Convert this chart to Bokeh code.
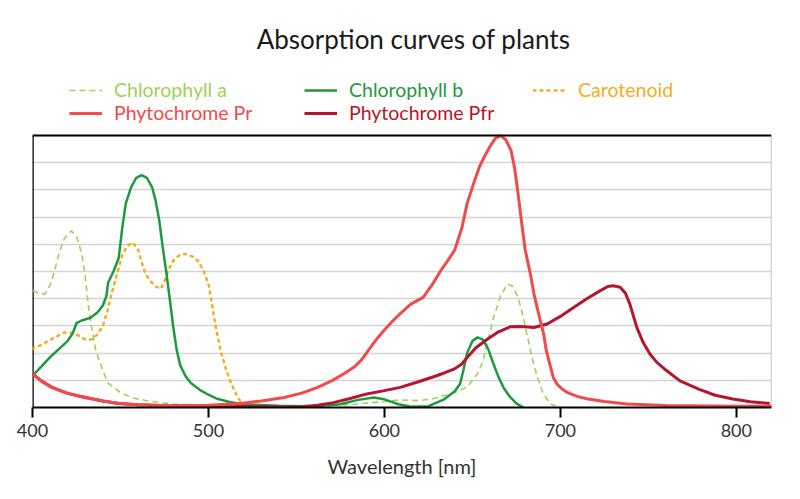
from bokeh.plotting import figure
from bokeh.models import Legend, LegendItem, Span, Label, FixedTicker
from bokeh.embed import file_html
from bokeh.resources import INLINE

# values: wavelength [nm] and relative absorption (0-10)
chl_a_wl = [400, 404, 407, 410, 412.5, 415, 418, 422, 425, 428, 430, 432, 434, 436, 440, 443,
            450, 457, 465, 480, 500, 540, 580, 600, 609, 620, 628, 640, 647, 653, 656, 659,
            662, 666, 670, 673, 676, 679, 681, 684, 687, 690, 694, 698]
chl_a_abs = [4.3, 4.2, 4.17, 4.5, 5.0, 5.65, 6.2, 6.5, 6.3, 5.65, 4.8, 3.6, 2.8, 2.1, 1.35, 0.9,
             0.55, 0.35, 0.25, 0.12, 0.08, 0.05, 0.1, 0.22, 0.28, 0.25, 0.33, 0.55, 0.75, 1.25, 1.7, 2.5,
             3.3, 4.1, 4.55, 4.45, 4.05, 3.3, 2.7, 1.8, 1.1, 0.55, 0.15, 0.02]

chl_b_wl = [400, 405, 410, 415, 420, 423, 425, 428, 433, 437, 440, 442, 443, 446, 449, 451,
            453, 456, 459, 462, 465, 468, 470, 472, 474, 476, 478, 480, 482, 484, 487, 490,
            495, 500, 505, 512, 520, 540, 560, 575, 585, 594, 600, 608, 615, 625, 634, 640,
            643, 645, 647, 650, 653, 656, 659, 662, 665, 668, 671, 675, 679]
chl_b_abs = [1.17, 1.5, 1.85, 2.15, 2.45, 2.75, 3.1, 3.2, 3.3, 3.5, 3.75, 4.1, 4.6, 5.0, 5.5, 6.6,
             7.5, 8.1, 8.45, 8.55, 8.45, 8.1, 7.6, 6.9, 5.9, 5.0, 4.0, 2.95, 2.1, 1.55, 1.15, 0.9,
             0.65, 0.47, 0.32, 0.2, 0.12, 0.06, 0.04, 0.12, 0.28, 0.37, 0.3, 0.12, 0.03, 0.05, 0.3, 0.6,
             0.87, 1.4, 2.0, 2.45, 2.58, 2.5, 2.15, 1.6, 1.1, 0.7, 0.42, 0.15, 0.0]

carot_wl = [400, 405, 409, 414, 418, 422, 426, 430, 434, 437, 440, 443, 445, 448, 451, 454,
            457, 460, 462, 464, 467, 470, 473, 475, 477, 480, 483, 487, 491, 494, 497, 500,
            502, 504, 507, 510, 513, 516, 519, 521]
carot_abs = [2.16, 2.3, 2.45, 2.62, 2.76, 2.75, 2.65, 2.5, 2.5, 2.7, 3.0, 3.65, 4.2, 4.9, 5.6, 5.95,
             6.07, 5.8, 5.35, 4.95, 4.65, 4.45, 4.37, 4.65, 5.03, 5.4, 5.58, 5.65, 5.55, 5.4, 5.05, 4.55,
             3.8, 3.0, 2.08, 1.4, 0.87, 0.45, 0.15, 0.0]

pr_wl = [400, 405, 411, 420, 430, 440, 449, 460, 477, 500, 518, 530, 543, 553, 562, 570,
         577, 583, 587, 592, 596, 600, 605, 609, 615, 622, 627, 632, 636, 640, 644, 647,
         651, 654, 657, 660, 663, 666, 669, 672, 674, 676, 678, 680, 683, 685, 688, 690.5,
         692, 694.5, 696, 698, 701, 704, 710, 715, 725, 738, 760, 800, 820]
pr_abs = [1.24, 0.98, 0.74, 0.52, 0.37, 0.24, 0.15, 0.1, 0.06, 0.08, 0.15, 0.24, 0.37, 0.53, 0.74, 0.98,
          1.24, 1.5, 1.75, 2.2, 2.55, 2.85, 3.2, 3.45, 3.8, 4.05, 4.5, 5.03, 5.4, 5.8, 6.6, 7.5,
          8.3, 8.85, 9.25, 9.6, 9.9, 10.0, 9.85, 9.45, 8.8, 7.85, 6.8, 5.8, 4.9, 4.18, 3.35, 2.71,
          2.1, 1.47, 1.1, 0.87, 0.68, 0.55, 0.4, 0.32, 0.22, 0.13, 0.07, 0.05, 0.05]

pfr_wl = [400, 405, 411, 420, 430, 440, 449, 460, 477, 500, 520, 540, 552, 562, 571, 580,
          590, 600, 609, 618, 628, 634, 639.5, 644, 647, 652, 658.5, 664, 671.5, 678, 685, 692.5,
          700, 707.5, 715, 722.5, 727, 730, 734, 737, 739.5, 743.5, 747, 751, 755, 760.5, 768, 779,
          788, 798, 808, 819]
pfr_abs = [1.24, 0.98, 0.74, 0.52, 0.37, 0.24, 0.15, 0.1, 0.06, 0.05, 0.04, 0.02, 0.02, 0.08, 0.18, 0.32,
           0.5, 0.62, 0.74, 0.92, 1.13, 1.27, 1.41, 1.6, 1.84, 2.2, 2.51, 2.75, 2.97, 2.98, 2.94, 3.07,
           3.35, 3.68, 4.0, 4.29, 4.45, 4.48, 4.42, 4.2, 3.8, 2.94, 2.4, 1.96, 1.65, 1.35, 0.98, 0.67,
           0.45, 0.31, 0.21, 0.15]

col_a = "#a2cf5a"
col_b = "#1e9a3e"
col_car = "#f5ac22"
col_pr = "#ef4b4b"
col_pfr = "#b3162e"

x_lo, x_hi = 400, 820
y_top = 10        # top of the value scale; the space above holds title and legend

p = figure(width=800, height=499, x_range=(x_lo, x_hi), y_range=(0, 14.97),
           output_backend="svg", toolbar_location=None, tools="",
           min_border_left=32, min_border_right=29, min_border_top=0, min_border_bottom=92)

p.yaxis.visible = False
p.xgrid.grid_line_color = None
p.ygrid.ticker = FixedTicker(ticks=list(range(y_top + 1)))
p.ygrid.grid_line_color = "#d4d4d4"
p.ygrid.grid_line_width = 1.5
p.outline_line_color = None

p.xaxis.ticker = FixedTicker(ticks=[400, 500, 600, 700, 800])
p.xaxis.minor_tick_line_color = None
p.xaxis.major_tick_in = 0
p.xaxis.major_tick_out = 10
p.xaxis.major_tick_line_width = 2
p.xaxis.major_tick_line_color = "black"
p.xaxis.axis_line_width = 2
p.xaxis.axis_line_color = "black"
p.xaxis.major_label_text_font = "Lato"
p.xaxis.major_label_text_font_size = "18px"
p.xaxis.major_label_text_color = "#333333"
p.xaxis.major_label_standoff = 6
p.xaxis.axis_label = "Wavelength [nm]"
p.xaxis.axis_label_text_font = "Lato"
p.xaxis.axis_label_text_font_size = "20px"
p.xaxis.axis_label_text_font_style = "normal"
p.xaxis.axis_label_text_color = "#333333"
p.xaxis.axis_label_standoff = 14

# frame of the value area: black top and left, thin grey right
p.add_layout(Span(location=y_top, dimension="width", line_color="black", line_width=2))
p.segment(x0=[x_lo], y0=[0], x1=[x_lo], y1=[y_top], line_color="black", line_width=2.5)
p.segment(x0=[x_hi], y0=[0], x1=[x_hi], y1=[y_top], line_color="#b0b0b0", line_width=1.5)

r_a = p.line(chl_a_wl, chl_a_abs, line_color=col_a, line_width=1.6, line_dash="6 4")
r_car = p.line(carot_wl, carot_abs, line_color=col_car, line_width=2.5, line_dash="2 5", line_cap="round")
r_b = p.line(chl_b_wl, chl_b_abs, line_color=col_b, line_width=2.5)
r_pfr = p.line(pfr_wl, pfr_abs, line_color=col_pfr, line_width=3)
r_pr = p.line(pr_wl, pr_abs, line_color=col_pr, line_width=3)

# one legend per entry so each label can carry its series colour
entries = [("Chlorophyll a", r_a, col_a, 37, 306),
           ("Chlorophyll b", r_b, col_b, 272, 306),
           ("Carotenoid", r_car, col_car, 501, 306),
           ("Phytochrome Pr", r_pr, col_pr, 37, 283),
           ("Phytochrome Pfr", r_pfr, col_pfr, 272, 283)]
for name, rend, col, lx, ly in entries:
    leg = Legend(items=[LegendItem(label=name, renderers=[rend])], location=(lx, ly),
                 padding=0, margin=0, spacing=0, glyph_width=33, glyph_height=20,
                 label_height=20, label_standoff=12, border_line_color=None,
                 background_fill_alpha=0, label_text_font="Lato",
                 label_text_font_size="19.5px", label_text_color=col)
    p.add_layout(leg, "center")

title = Label(x=381, y=369, x_units="screen", y_units="screen", text="Absorption curves of plants",
              text_align="center", text_baseline="alphabetic", text_font="Lato",
              text_font_size="26px", text_color="#1a1a1a")
p.add_layout(title)

open("out.html", "w").write(file_html(p, INLINE))
